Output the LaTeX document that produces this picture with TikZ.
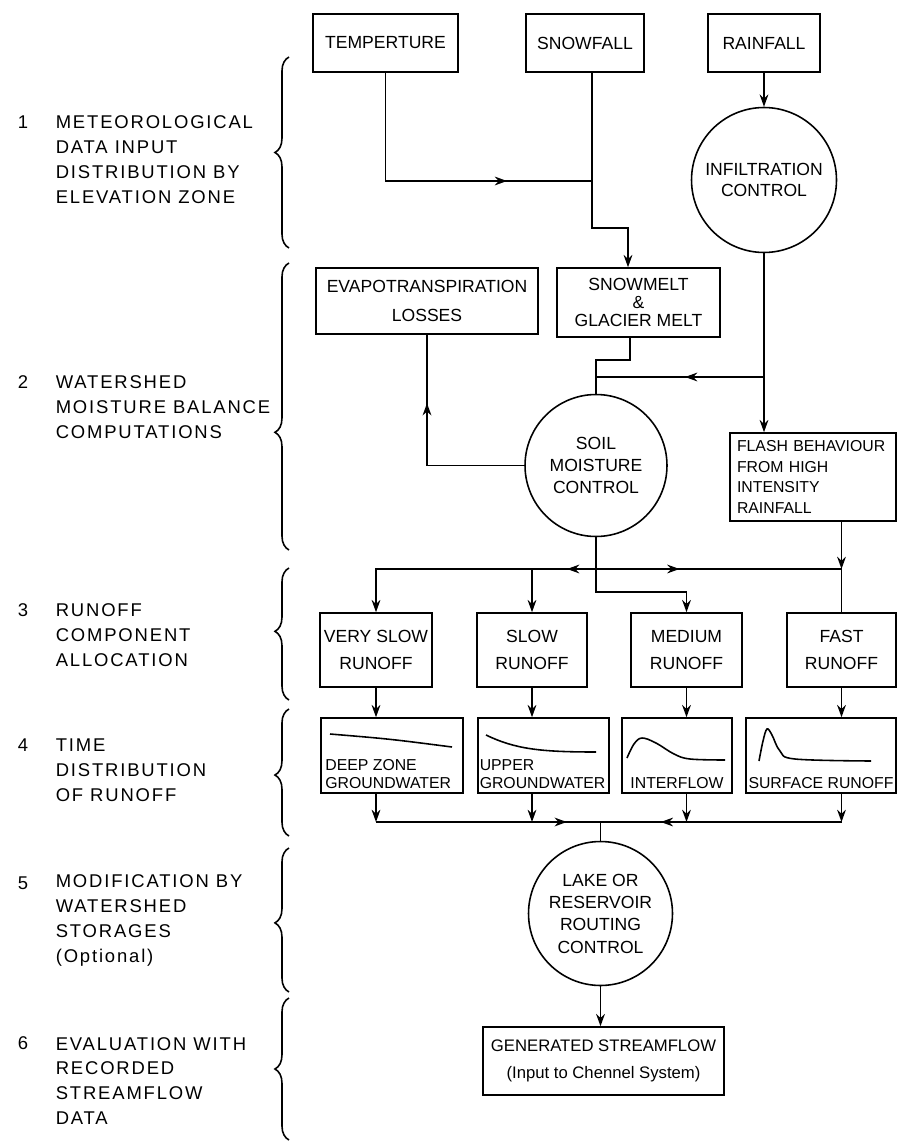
\documentclass[tikz,border=0pt]{standalone}
\usepackage{fontspec}
\setmainfont{Liberation Sans}
\newfontfamily\stagefont{Liberation Sans}[LetterSpace=10]
\usetikzlibrary{arrows.meta, positioning, calc, decorations.pathreplacing, decorations.markings}

\begin{document}
\begin{tikzpicture}[
        x=0.02cm, y=-0.02cm, line width=0.9pt,
        >={Stealth[length=7pt,width=5pt]},
        box/.style={rectangle, draw, align=center, inner sep=2pt, minimum height=1.16cm, font=\fontsize{10}{12}\selectfont},
        runoff/.style={box, minimum height=1.48cm, font=\fontsize{10}{15}\selectfont},
        ctrl/.style={circle, draw, align=center, inner sep=0pt, minimum size=2.88cm, font=\fontsize{10}{12.3}\selectfont},
        graphbox/.style={rectangle, draw, minimum height=1.5cm},
        graphtext/.style={align=left, inner sep=2.5pt, font=\fontsize{9}{10}\selectfont},
        stagenum/.style={anchor=west, inner sep=0pt, font=\fontsize{10.5}{14.2}\selectfont},
        stagetext/.style={anchor=west, align=left, inner sep=0pt, font=\stagefont\fontsize{10.5}{14.2}\selectfont},
        stagebrace/.style={decorate, decoration={brace, amplitude=8pt, aspect=#1}},
        midarrow/.style={postaction={decorate}, decoration={markings, mark=at position #1 with {\arrow{>}}}}
    ]
        \useasboundingbox (0,0) rectangle (898,1142);

        % Stage labels
        \node[stagenum] (n1) at (17,122.5) {1};
        \node[stagetext] (s1) at (55,160) {METEOROLOGICAL\\DATA INPUT\\DISTRIBUTION BY\\ELEVATION ZONE};
        \node[stagenum] (n2) at (17,382) {2};
        \node[stagetext] (s2) at (55,407) {WATERSHED\\MOISTURE BALANCE\\COMPUTATIONS};
        \node[stagenum] (n3) at (17,610) {3};
        \node[stagetext] (s3) at (55,635) {RUNOFF\\COMPONENT\\ALLOCATION};
        \node[stagenum] (n4) at (17,745) {4};
        \node[stagetext] (s4) at (55,770) {TIME\\DISTRIBUTION\\OF RUNOFF};
        \node[stagenum] (n5) at (17,883) {5};
        \node[stagetext] (s5) at (55,920.5) {MODIFICATION BY\\WATERSHED\\STORAGES\\(Optional)};
        \node[stagenum] (n6) at (17,1043.5) {6};
        \node[stagetext] (s6) at (55,1081) {EVALUATION WITH\\RECORDED\\STREAMFLOW\\DATA};

        % Braces
        \draw[stagebrace=0.5] (289,248) -- (289,57);
        \draw[stagebrace=0.41] (289,550) -- (289,263);
        \draw[stagebrace=0.52] (289,700) -- (289,568);
        \draw[stagebrace=0.48] (289,836) -- (289,709);
        \draw[stagebrace=0.48] (289,992) -- (289,848);
        \draw[stagebrace=0.5] (289,1140) -- (289,998);

        % Inputs
        \node[box, minimum width=2.9cm] (temp) at (385.5,43) {TEMPERTURE};
        \node[box, minimum width=2.36cm] (snow) at (585,43) {SNOWFALL};
        \node[box, minimum width=2.24cm] (rain) at (764,43) {RAINFALL};
        \node[ctrl, minimum size=2.9cm, font=\fontsize{10}{12}\selectfont] (infil) at (764,180) {INFILTRATION\\CONTROL};

        % Moisture balance
        \node[box, minimum width=4.44cm, minimum height=1.32cm, font=\fontsize{10}{16}\selectfont] (evapo) at (427,301) {EVAPOTRANSPIRATION\\LOSSES};
        \node[box, minimum width=3.26cm, minimum height=1.38cm, font=\fontsize{10}{10.5}\selectfont] (melt) at (638.5,302.5) {SNOWMELT\\\&\\GLACIER MELT};
        \node[ctrl, minimum size=2.84cm] (soil) at (596,465.5) {SOIL\\MOISTURE\\CONTROL};
        \node[box, minimum width=3.32cm, minimum height=1.76cm, align=left, text width=3.04cm, inner sep=4pt, font=\fontsize{9}{11.6}\selectfont] (flash) at (813,477) {FLASH BEHAVIOUR\\FROM HIGH\\INTENSITY\\RAINFALL};

        % Runoff components
        \node[runoff, minimum width=2.24cm] (vslow) at (376,650) {VERY SLOW\\RUNOFF};
        \node[runoff, minimum width=2.2cm] (slow) at (532,650) {SLOW\\RUNOFF};
        \node[runoff, minimum width=2.22cm] (medium) at (686.5,650) {MEDIUM\\RUNOFF};
        \node[runoff, minimum width=2.18cm] (fast) at (841.5,650) {FAST\\RUNOFF};

        % Time distribution
        \node[graphbox, minimum width=2.84cm] (deep) at (392,755.5) {};
        \node[graphbox, minimum width=2.62cm] (upper) at (543.5,755.5) {};
        \node[graphbox, minimum width=2.2cm] (inter) at (677,755.5) {};
        \node[graphbox, minimum width=3.0cm] (surf) at (821,755.5) {};
        \node[graphtext, anchor=south west] (deeptxt) at (deep.south west) {DEEP ZONE\\GROUNDWATER};
        \node[graphtext, anchor=south west, inner xsep=1pt] (uppertxt) at (upper.south west) {UPPER\\GROUNDWATER};
        \node[graphtext, anchor=south] (intertxt) at (inter.south) {INTERFLOW};
        \node[graphtext, anchor=south] (surftxt) at (surf.south) {SURFACE RUNOFF};
        \draw (330,734) .. controls (390,739) .. (452,747);
        \draw (486,735) .. controls (515,749) and (540,752) .. (596,752);
        \draw plot[smooth, tension=0.6] coordinates {(627,758) (634,744) (642,738) (656,743) (674,754) (690,759) (725,760)};
        \draw plot[smooth, tension=0.6] coordinates {(759,761) (763,741) (767,729) (772,735) (780,751) (795,759) (871,761)};

        % Routing and output
        \node[ctrl, minimum size=2.88cm, font=\fontsize{10}{12.7}\selectfont] (lake) at (600.5,913.5) {LAKE OR\\RESERVOIR\\ROUTING\\CONTROL};
        \node[box, minimum width=4.82cm, minimum height=1.36cm, font=\fontsize{9.5}{15.3}\selectfont] (gen) at (603.5,1061) {GENERATED STREAMFLOW\\(Input to Chennel System)};

        % Connectors
        \coordinate (tjoin) at (592,181);
        \coordinate (sbend) at (592,228);
        \coordinate (mbend) at (628,228);
        \draw[midarrow=0.73] (temp.south) |- (tjoin);
        \draw[->] (snow.south -| tjoin) -- (sbend) -- (mbend) -- (mbend |- melt.north);
        \draw[->] (rain) -- (infil);

        \coordinate (mout) at (630,360);
        \coordinate (ijoin) at (764,377);
        \draw (melt.south -| mout) -- (mout) -| (soil.north);
        \draw[->] (infil.south) -- (infil.south |- flash.north);
        \draw[midarrow=0.47] (ijoin) -- (ijoin -| soil.north);
        \draw[midarrow=0.7] (soil.west) -| (evapo.south);

        \coordinate (fjoin) at (841.5,569);
        \coordinate (sjoin) at (596,569);
        \coordinate (mturn) at (596,592);
        \draw[->] (flash.south -| fjoin) -- (fjoin);
        \draw (fjoin) -- (fast.north);
        \draw[->] (soil.south) -- (mturn) -| (medium.north);
        \draw[->, midarrow=0.11] (sjoin) -| (vslow.north);
        \draw[->] (sjoin -| slow.north) -- (slow.north);
        \draw[midarrow=0.34] (sjoin) -- (fjoin);

        \draw[->] (vslow.south) -- (vslow.south |- deep.north);
        \draw[->] (slow.south) -- (slow.south |- upper.north);
        \draw[->] (medium.south) -- (medium.south |- inter.north);
        \draw[->] (fast.south) -- (fast.south |- surf.north);

        \coordinate (cjoin) at (600.5,822);
        \draw[->] (deep.south -| vslow) -- (vslow |- cjoin);
        \draw[->] (upper.south -| slow) -- (slow |- cjoin);
        \draw[->] (inter.south -| medium) -- (medium |- cjoin);
        \draw[->] (surf.south -| fast) -- (fast |- cjoin);
        \draw[midarrow=0.85] (vslow |- cjoin) -- (cjoin);
        \draw[midarrow=0.75] (fast |- cjoin) -- (cjoin);
        \draw (cjoin) -- (lake.north);
        \draw[->] (lake.south) -- (lake.south |- gen.north);
    \end{tikzpicture}
\end{document}
